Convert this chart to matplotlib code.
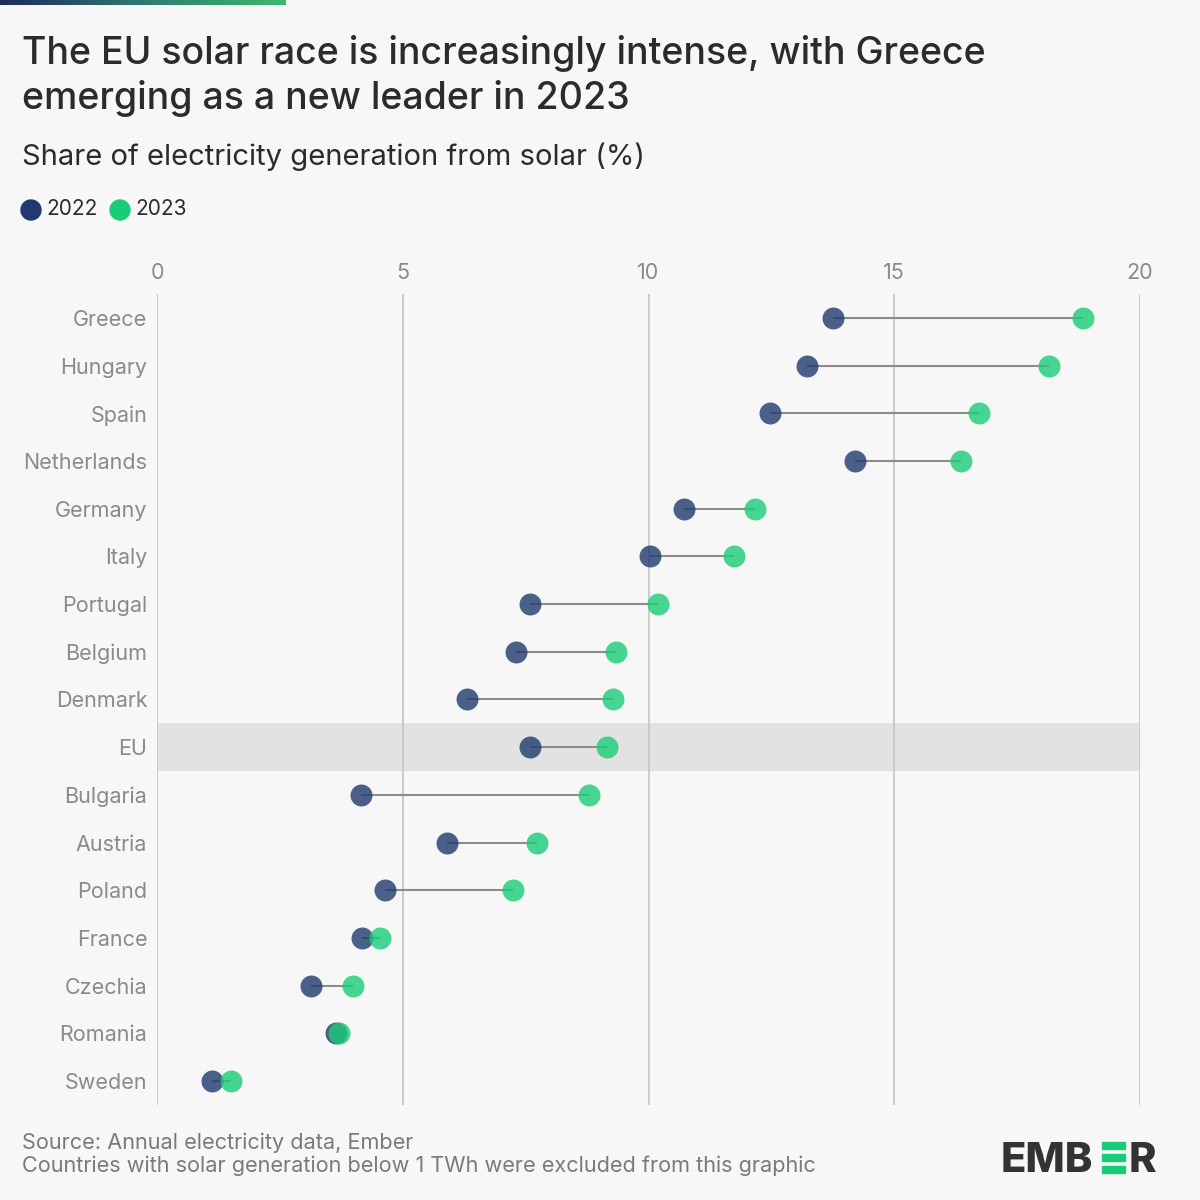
import matplotlib
matplotlib.use("Agg")
import matplotlib.pyplot as plt
from matplotlib.patches import Rectangle, Circle
import numpy as np

countries = ["Greece", "Hungary", "Spain", "Netherlands", "Germany", "Italy", "Portugal",
             "Belgium", "Denmark", "EU", "Bulgaria", "Austria", "Poland", "France",
             "Czechia", "Romania", "Sweden"]
share_2022 = [13.75, 13.22, 12.47, 14.2, 10.72, 10.03, 7.59, 7.30, 6.31, 7.59, 4.15,
              5.90, 4.64, 4.17, 3.13, 3.64, 1.12]
share_2023 = [18.84, 18.15, 16.72, 16.36, 12.17, 11.74, 10.19, 9.34, 9.28, 9.16, 8.79,
              7.73, 7.24, 4.54, 3.99, 3.70, 1.51]
x_ticks = [0, 5, 10, 15, 20]

BG = "#f7f7f7"
C22 = "#1f3a6e"
C23 = "#19cd78"
FONT = ["Inter", "DejaVu Sans"]
plt.rcParams["font.family"] = FONT

fig = plt.figure(figsize=(12, 12), dpi=100, facecolor=BG)
ax = fig.add_axes([157/1200, 1 - 1105/1200, 983/1200, (1105 - 294)/1200])
ax.set_facecolor(BG)

y = np.arange(len(countries))
ax.set_xlim(0, 20)
ax.set_ylim(len(countries) - 0.5, -0.5)

eu_i = countries.index("EU")
ax.axhspan(eu_i - 0.5, eu_i + 0.5, color="#e2e2e2", zorder=0, lw=0)
for t in x_ticks:
    ax.axvline(t, color="#c8c8c8", lw=1.3, zorder=1)

ax.hlines(y, share_2022, share_2023, color="#8c8c8c", lw=1.5, zorder=2)
ax.scatter(share_2022, y, s=250, color=C22, alpha=0.8, zorder=3, lw=0)
ax.scatter(share_2023, y, s=250, color=C23, alpha=0.8, zorder=4, lw=0)

ax.set_xticks(x_ticks)
ax.set_xticklabels([str(t) for t in x_ticks])
ax.xaxis.tick_top()
ax.tick_params(axis="x", length=0, pad=8, labelsize=15.5, labelcolor="#8a8a8a")
ax.set_yticks(y)
ax.set_yticklabels(countries)
ax.tick_params(axis="y", length=0, pad=7, labelsize=15.5, labelcolor="#8a8a8a")
for s in ax.spines.values():
    s.set_visible(False)

# Top gradient bar
grad_ax = fig.add_axes([0, 1 - 5/1200, 286/1200, 5/1200])
grad_ax.imshow(np.linspace(0, 1, 256)[None, :], aspect="auto",
               cmap=matplotlib.colors.LinearSegmentedColormap.from_list("g", ["#1d2b5c", "#2f7a72", "#3dba6c"]))
grad_ax.axis("off")

fig.text(22/1200, 1 - 76/1200, "The EU solar race is increasingly intense, with Greece\nemerging as a new leader in 2023",
         fontsize=27, color="#2b2b2b", va="center", ha="left", linespacing=1.3, fontweight="medium")
fig.text(22/1200, 1 - 157/1200, "Share of electricity generation from solar (%)",
         fontsize=21, color="#2b2b2b", va="center", ha="left")

# Legend
fig.patches.append(Circle((31/1200, 1 - 210/1200), 10/1200, transform=fig.transFigure,
                          color=C22, figure=fig))
fig.text(46/1200, 1 - 209/1200, "2022", fontsize=15, color="#2b2b2b", va="center", ha="left")
fig.patches.append(Circle((120/1200, 1 - 210/1200), 10/1200, transform=fig.transFigure,
                          color=C23, figure=fig))
fig.text(135/1200, 1 - 209/1200, "2023", fontsize=15, color="#2b2b2b", va="center", ha="left")

# Footer
fig.text(22/1200, 1 - 1143/1200, "Source: Annual electricity data, Ember", fontsize=15.6,
         color="#7a7a7a", va="center", ha="left")
fig.text(22/1200, 1 - 1166/1200, "Countries with solar generation below 1 TWh were excluded from this graphic",
         fontsize=15.6, color="#7a7a7a", va="center", ha="left")

# Ember logo
logo_y = 1 - 1157.5/1200
fig.text(1001/1200, logo_y, "EMB", fontsize=30, fontweight="heavy", color="#333333",
         va="center_baseline", ha="left")
for top in (1142, 1154, 1166):
    fig.patches.append(Rectangle((1102/1200, 1 - (top + 7) / 1200), 23/1200, 7/1200,
                                 transform=fig.transFigure, color=C23, figure=fig))
fig.text(1129/1200, logo_y, "R", fontsize=30, fontweight="heavy", color="#333333",
         va="center_baseline", ha="left")

fig.savefig("out.png", dpi=100, facecolor=BG)
